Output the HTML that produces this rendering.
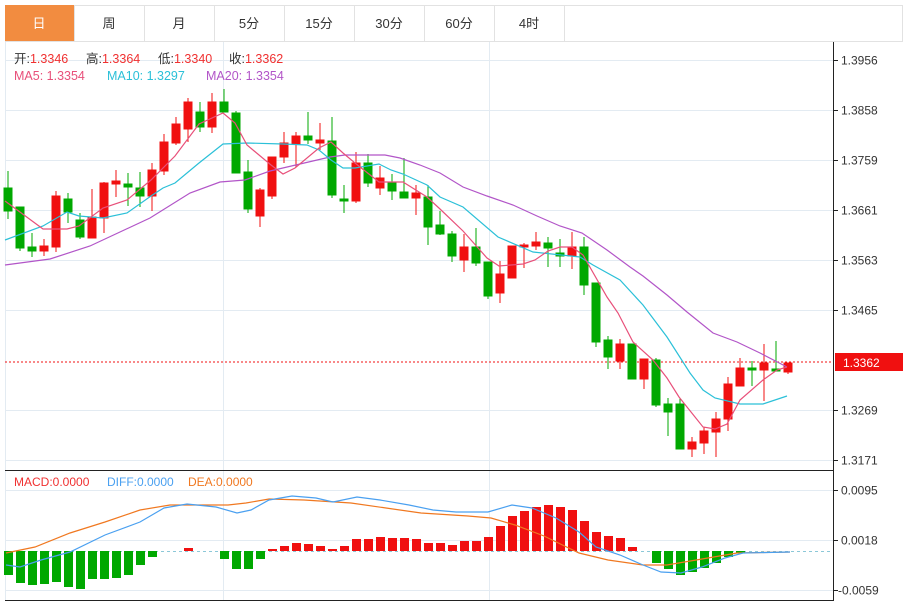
<!DOCTYPE html>
<html><head><meta charset="utf-8"><style>
html,body{margin:0;padding:0;background:#fff;}
svg{display:block;font-family:"Liberation Sans","Noto Sans CJK SC",sans-serif;}
</style></head><body>
<svg width="912" height="603" viewBox="0 0 912 603" xmlns="http://www.w3.org/2000/svg">
<rect x="0" y="0" width="912" height="603" fill="#fff"/>
<rect x="5.5" y="5.5" width="897" height="36" fill="#fff" stroke="#e2e2e2"/>
<rect x="5" y="5" width="69" height="36" fill="#f28c40"/>
<g stroke="#e2e2e2"><line x1="74.5" y1="5" x2="74.5" y2="41"/><line x1="144.5" y1="5" x2="144.5" y2="41"/><line x1="214.5" y1="5" x2="214.5" y2="41"/><line x1="284.5" y1="5" x2="284.5" y2="41"/><line x1="354.5" y1="5" x2="354.5" y2="41"/><line x1="424.5" y1="5" x2="424.5" y2="41"/><line x1="494.5" y1="5" x2="494.5" y2="41"/><line x1="564.5" y1="5" x2="564.5" y2="41"/></g>
<g font-size="13" text-anchor="middle" fill="#333">
<text x="39" y="28" fill="#fff">日</text><text x="109" y="28">周</text><text x="179" y="28">月</text><text x="249" y="28">5分</text><text x="319" y="28">15分</text><text x="389" y="28">30分</text><text x="459" y="28">60分</text><text x="529" y="28">4时</text></g>
<g stroke="#e3ebf2" stroke-width="1">
<line x1="5" y1="60.5" x2="833" y2="60.5"/><line x1="5" y1="110.5" x2="833" y2="110.5"/><line x1="5" y1="160.5" x2="833" y2="160.5"/><line x1="5" y1="210.5" x2="833" y2="210.5"/><line x1="5" y1="260.5" x2="833" y2="260.5"/><line x1="5" y1="310.5" x2="833" y2="310.5"/><line x1="5" y1="410.5" x2="833" y2="410.5"/><line x1="5" y1="460.5" x2="833" y2="460.5"/>
<line x1="5" y1="490.5" x2="833" y2="490.5"/><line x1="5" y1="540.5" x2="833" y2="540.5"/><line x1="5" y1="590.5" x2="833" y2="590.5"/>
<line x1="223.5" y1="42" x2="223.5" y2="600"/><line x1="489.5" y1="42" x2="489.5" y2="600"/>
</g>
<line x1="5.5" y1="42" x2="5.5" y2="600" stroke="#e3ebf2"/>
<g stroke="#222"><line x1="833.5" y1="42" x2="833.5" y2="600"/><line x1="5" y1="470.5" x2="834" y2="470.5"/><line x1="5" y1="600.5" x2="834" y2="600.5"/>
<line x1="833" y1="60.5" x2="838" y2="60.5"/><line x1="833" y1="110.5" x2="838" y2="110.5"/><line x1="833" y1="160.5" x2="838" y2="160.5"/><line x1="833" y1="210.5" x2="838" y2="210.5"/><line x1="833" y1="260.5" x2="838" y2="260.5"/><line x1="833" y1="310.5" x2="838" y2="310.5"/><line x1="833" y1="410.5" x2="838" y2="410.5"/><line x1="833" y1="460.5" x2="838" y2="460.5"/><line x1="833" y1="490.5" x2="838" y2="490.5"/><line x1="833" y1="540.5" x2="838" y2="540.5"/><line x1="833" y1="590.5" x2="838" y2="590.5"/></g>
<g font-size="12" fill="#333">
<text x="841" y="64.5">1.3956</text><text x="841" y="114.5">1.3858</text><text x="841" y="164.5">1.3759</text><text x="841" y="214.5">1.3661</text><text x="841" y="264.5">1.3563</text><text x="841" y="314.5">1.3465</text><text x="841" y="414.5">1.3269</text><text x="841" y="464.5">1.3171</text>
<text x="841" y="494.5">0.0095</text><text x="841" y="544.5">0.0018</text><text x="838" y="594.5">-0.0059</text></g>
<line x1="5" y1="362" x2="833" y2="362" stroke="#f01010" stroke-dasharray="2,2"/>
<rect x="835" y="353" width="68" height="18" fill="#f01010"/>
<text x="843" y="367" font-size="12" fill="#fff">1.3362</text>
<g font-size="12.5">
<text x="14" y="63" fill="#333">开:<tspan fill="#f03030">1.3346</tspan></text>
<text x="86" y="63" fill="#333">高:<tspan fill="#f03030">1.3364</tspan></text>
<text x="158" y="63" fill="#333">低:<tspan fill="#f03030">1.3340</tspan></text>
<text x="229" y="63" fill="#333">收:<tspan fill="#f03030">1.3362</tspan></text>
<text x="14" y="80" fill="#e8507a">MA5: 1.3354</text><text x="107" y="80" fill="#2bc0d8">MA10: 1.3297</text><text x="206" y="80" fill="#b255c8">MA20: 1.3354</text></g>
<g font-size="12">
<text x="14" y="486" fill="#f03030">MACD:0.0000</text><text x="107" y="486" fill="#4aa0f0">DIFF:0.0000</text><text x="188" y="486" fill="#f07820">DEA:0.0000</text></g>
<g stroke-width="1">
<g fill="#00a800" stroke="#00a800">
<line x1="8" y1="171" x2="8" y2="219"/><rect x="4" y="188" width="8" height="23"/>
<line x1="20" y1="207" x2="20" y2="251"/><rect x="16" y="207" width="8" height="41"/>
<line x1="32" y1="233" x2="32" y2="257"/><rect x="28" y="247" width="8" height="4"/>
<line x1="68" y1="193" x2="68" y2="223"/><rect x="64" y="199" width="8" height="13"/>
<line x1="80" y1="213" x2="80" y2="239"/><rect x="76" y="220" width="8" height="17"/>
<line x1="128" y1="173" x2="128" y2="206"/><rect x="124" y="184" width="8" height="3"/>
<line x1="140" y1="172" x2="140" y2="207"/><rect x="136" y="188" width="8" height="8"/>
<line x1="200" y1="102" x2="200" y2="132"/><rect x="196" y="112" width="8" height="15"/>
<line x1="224" y1="89" x2="224" y2="112"/><rect x="220" y="102" width="8" height="10"/>
<line x1="236" y1="111" x2="236" y2="173"/><rect x="232" y="113" width="8" height="60"/>
<line x1="248" y1="160" x2="248" y2="213"/><rect x="244" y="172" width="8" height="37"/>
<line x1="308" y1="112" x2="308" y2="144"/><rect x="304" y="136" width="8" height="4"/>
<line x1="332" y1="117" x2="332" y2="198"/><rect x="328" y="141" width="8" height="54"/>
<line x1="344" y1="185" x2="344" y2="213"/><rect x="340" y="199" width="8" height="2"/>
<line x1="368" y1="154" x2="368" y2="187"/><rect x="364" y="163" width="8" height="20"/>
<line x1="392" y1="174" x2="392" y2="200"/><rect x="388" y="182" width="8" height="9"/>
<line x1="404" y1="158" x2="404" y2="198"/><rect x="400" y="192" width="8" height="6"/>
<line x1="428" y1="185" x2="428" y2="245"/><rect x="424" y="197" width="8" height="30"/>
<line x1="440" y1="211" x2="440" y2="235"/><rect x="436" y="225" width="8" height="9"/>
<line x1="452" y1="231" x2="452" y2="262"/><rect x="448" y="234" width="8" height="22"/>
<line x1="476" y1="228" x2="476" y2="266"/><rect x="472" y="247" width="8" height="16"/>
<line x1="488" y1="262" x2="488" y2="299"/><rect x="484" y="262" width="8" height="34"/>
<line x1="548" y1="237" x2="548" y2="267"/><rect x="544" y="243" width="8" height="5"/>
<line x1="560" y1="239" x2="560" y2="267"/><rect x="556" y="253" width="8" height="3"/>
<line x1="584" y1="237" x2="584" y2="295"/><rect x="580" y="247" width="8" height="38"/>
<line x1="596" y1="283" x2="596" y2="347"/><rect x="592" y="283" width="8" height="59"/>
<line x1="608" y1="336" x2="608" y2="369"/><rect x="604" y="340" width="8" height="17"/>
<line x1="632" y1="344" x2="632" y2="379"/><rect x="628" y="344" width="8" height="35"/>
<line x1="656" y1="358" x2="656" y2="407"/><rect x="652" y="360" width="8" height="45"/>
<line x1="668" y1="398" x2="668" y2="436"/><rect x="664" y="404" width="8" height="8"/>
<line x1="680" y1="398" x2="680" y2="449"/><rect x="676" y="404" width="8" height="45"/>
<line x1="752" y1="361" x2="752" y2="386"/><rect x="748" y="368" width="8" height="2"/>
<line x1="776" y1="341" x2="776" y2="371"/><rect x="772" y="369" width="8" height="2"/>
</g>
<g fill="#f01010" stroke="#f01010">
<line x1="44" y1="239" x2="44" y2="256"/><rect x="40" y="246" width="8" height="5"/>
<line x1="56" y1="191" x2="56" y2="252"/><rect x="52" y="196" width="8" height="51"/>
<line x1="92" y1="189" x2="92" y2="238"/><rect x="88" y="217" width="8" height="21"/>
<line x1="104" y1="182" x2="104" y2="233"/><rect x="100" y="183" width="8" height="35"/>
<line x1="116" y1="170" x2="116" y2="197"/><rect x="112" y="181" width="8" height="3"/>
<line x1="152" y1="163" x2="152" y2="211"/><rect x="148" y="170" width="8" height="26"/>
<line x1="164" y1="134" x2="164" y2="175"/><rect x="160" y="142" width="8" height="29"/>
<line x1="176" y1="117" x2="176" y2="145"/><rect x="172" y="124" width="8" height="19"/>
<line x1="188" y1="98" x2="188" y2="142"/><rect x="184" y="102" width="8" height="27"/>
<line x1="212" y1="93" x2="212" y2="133"/><rect x="208" y="102" width="8" height="25"/>
<line x1="260" y1="188" x2="260" y2="227"/><rect x="256" y="190" width="8" height="26"/>
<line x1="272" y1="157" x2="272" y2="199"/><rect x="268" y="157" width="8" height="39"/>
<line x1="284" y1="132" x2="284" y2="163"/><rect x="280" y="143" width="8" height="14"/>
<line x1="296" y1="132" x2="296" y2="167"/><rect x="292" y="136" width="8" height="8"/>
<line x1="320" y1="123" x2="320" y2="150"/><rect x="316" y="140" width="8" height="3"/>
<line x1="356" y1="152" x2="356" y2="203"/><rect x="352" y="163" width="8" height="38"/>
<line x1="380" y1="166" x2="380" y2="195"/><rect x="376" y="178" width="8" height="10"/>
<line x1="416" y1="185" x2="416" y2="215"/><rect x="412" y="193" width="8" height="5"/>
<line x1="464" y1="234" x2="464" y2="272"/><rect x="460" y="247" width="8" height="13"/>
<line x1="500" y1="261" x2="500" y2="303"/><rect x="496" y="274" width="8" height="19"/>
<line x1="512" y1="246" x2="512" y2="278"/><rect x="508" y="246" width="8" height="32"/>
<line x1="524" y1="243" x2="524" y2="268"/><rect x="520" y="245" width="8" height="2"/>
<line x1="536" y1="232" x2="536" y2="250"/><rect x="532" y="242" width="8" height="4"/>
<line x1="572" y1="232" x2="572" y2="269"/><rect x="568" y="247" width="8" height="9"/>
<line x1="620" y1="339" x2="620" y2="369"/><rect x="616" y="344" width="8" height="17"/>
<line x1="644" y1="359" x2="644" y2="389"/><rect x="640" y="359" width="8" height="20"/>
<line x1="692" y1="437" x2="692" y2="457"/><rect x="688" y="442" width="8" height="7"/>
<line x1="704" y1="427" x2="704" y2="454"/><rect x="700" y="431" width="8" height="12"/>
<line x1="716" y1="412" x2="716" y2="457"/><rect x="712" y="419" width="8" height="13"/>
<line x1="728" y1="377" x2="728" y2="431"/><rect x="724" y="384" width="8" height="35"/>
<line x1="740" y1="358" x2="740" y2="386"/><rect x="736" y="368" width="8" height="18"/>
<line x1="764" y1="344" x2="764" y2="401"/><rect x="760" y="363" width="8" height="7"/>
<line x1="788" y1="363" x2="788" y2="374"/><rect x="784" y="363" width="8" height="9"/>
</g>
</g>
<g fill="none" stroke-width="1.2">
<polyline stroke="#b255c8" points="5,265 50,259 90,246 150,218 190,193 220,182 245,180 270,171 300,164 330,157 345,155 365,155 385,155 400,158 420,165 440,173 463,187 487,196 513,205 537,216 560,226 582,233 607,250 630,267 643,276 667,295 687,312 713,333 737,342 760,353 787,367"/>
<polyline stroke="#2bc0d8" points="5,240 43,226 67,212 79,216 103,218 127,213 151,196 163,188 175,183 199,163 223,144 247,143 283,144 307,145 319,150 331,160 343,168 355,168 379,164 391,170 403,174 427,185 440,197 463,207 498,237 533,252 580,257 593,265 620,280 643,305 667,337 690,373 703,390 715,398 740,404 763,404 787,396"/>
<polyline stroke="#e8507a" points="5,201 43,229 67,229 79,226 103,208 127,200 151,180 175,156 199,124 223,113 235,123 247,145 271,165 283,174 295,168 319,148 331,142 343,153 355,163 379,182 391,182 403,182 427,197 440,209 463,231 487,258 499,266 523,264 535,260 548,251 560,247 572,247 583,255 607,297 618,313 633,342 653,360 667,378 679,397 703,427 715,429 727,424 740,400 763,380 777,370 787,367"/>
</g>
<line x1="5" y1="551.5" x2="833" y2="551.5" stroke="#8cc8d8" stroke-dasharray="3,3"/>
<g fill="#00a800">
<rect x="4" y="551" width="9" height="24"/><rect x="16" y="551" width="9" height="32"/><rect x="28" y="551" width="9" height="34"/><rect x="40" y="551" width="9" height="33"/><rect x="52" y="551" width="9" height="31"/><rect x="64" y="551" width="9" height="36"/><rect x="76" y="551" width="9" height="38"/><rect x="88" y="551" width="9" height="28"/><rect x="100" y="551" width="9" height="28"/><rect x="112" y="551" width="9" height="27"/><rect x="124" y="551" width="9" height="24"/><rect x="136" y="551" width="9" height="14"/><rect x="148" y="551" width="9" height="6"/>
<rect x="220" y="551" width="9" height="8"/><rect x="232" y="551" width="9" height="18"/><rect x="244" y="551" width="9" height="18"/><rect x="256" y="551" width="9" height="8"/>
<rect x="652" y="551" width="9" height="12"/><rect x="664" y="551" width="9" height="18"/><rect x="676" y="551" width="9" height="24"/><rect x="688" y="551" width="9" height="21"/><rect x="700" y="551" width="9" height="17"/><rect x="712" y="551" width="9" height="12"/><rect x="724" y="551" width="9" height="6"/><rect x="736" y="551" width="9" height="2"/>
</g>
<g fill="#f01010">
<rect x="184" y="548" width="9" height="3"/><rect x="268" y="549" width="9" height="2"/>
<rect x="280" y="546" width="9" height="5"/><rect x="292" y="543" width="9" height="8"/><rect x="304" y="544" width="9" height="7"/><rect x="316" y="546" width="9" height="5"/><rect x="328" y="549" width="9" height="2"/><rect x="340" y="546" width="9" height="5"/><rect x="352" y="539" width="9" height="12"/><rect x="364" y="539" width="9" height="12"/><rect x="376" y="537" width="9" height="14"/><rect x="388" y="538" width="9" height="13"/><rect x="400" y="538" width="9" height="13"/><rect x="412" y="539" width="9" height="12"/><rect x="424" y="543" width="9" height="8"/><rect x="436" y="543" width="9" height="8"/><rect x="448" y="545" width="9" height="6"/><rect x="460" y="541" width="9" height="10"/><rect x="472" y="541" width="9" height="10"/><rect x="484" y="537" width="9" height="14"/><rect x="496" y="526" width="9" height="25"/><rect x="508" y="516" width="9" height="35"/><rect x="520" y="511" width="9" height="40"/><rect x="532" y="507" width="9" height="44"/><rect x="544" y="505" width="9" height="46"/><rect x="556" y="507" width="9" height="44"/><rect x="568" y="510" width="9" height="41"/><rect x="580" y="521" width="9" height="30"/><rect x="592" y="532" width="9" height="19"/><rect x="604" y="536" width="9" height="15"/><rect x="616" y="538" width="9" height="13"/><rect x="628" y="547" width="9" height="4"/>
</g>
<g fill="none" stroke-width="1.2">
<polyline stroke="#f07820" points="6,553 35,547 70,533 105,522 140,510 170,505 199,505 228,505 246,503 269,499 304,500 351,503 386,508 421,513 468,516 491,518 515,525 544,536 579,553 608,560 643,565 667,565 702,559 737,553 790,552"/>
<polyline stroke="#4aa0f0" points="6,565 20,567 41,560 70,552 105,535 140,522 164,508 187,504 216,507 237,513 251,510 269,500 292,496 316,498 333,502 357,497 380,500 409,505 433,510 456,512 488,512 512,505 532,508 556,518 579,532 596,547 620,555 643,565 661,572 681,573 702,567 725,558 743,553 790,552"/>
</g>
</svg>
</body></html>
